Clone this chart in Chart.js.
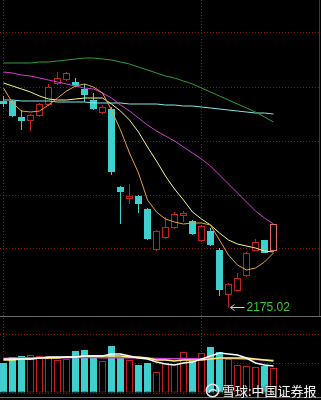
<!DOCTYPE html>
<html>
<head>
<meta charset="utf-8">
<script src="https://cdn.jsdelivr.net/npm/chart.js@4.4.1/dist/chart.umd.min.js"></script>
<style>
  html, body { margin: 0; padding: 0; background: #000; }
  #wrap { position: relative; width: 321px; height: 400px; overflow: hidden; background: #000; }
  #priceChart { position: absolute; left: 0; top: 0; }
  #volChart { position: absolute; left: 0; top: 318px; }
  #mark {
    position: absolute; left: 205px; top: 383px; height: 15px;
    display: flex; align-items: center; gap: 2px;
    font: 13px "Noto Sans CJK SC", sans-serif; line-height: 15px;
    color: #f2f2f2; text-shadow: 0 0 2px #000, 0 0 1px #555;
    white-space: nowrap;
  }
</style>
</head>
<body>
<div id="wrap">
  <canvas id="priceChart" width="321" height="318"></canvas>
  <canvas id="volChart" width="321" height="82"></canvas>
  <div id="mark">
    <svg width="15" height="15" viewBox="0 0 15 15">
      <circle cx="7.5" cy="7.5" r="6.2" fill="none" stroke="#e8e8e8" stroke-width="1.6"/>
      <path d="M3.8 9.8 C5 6.2 8.6 5.4 11.2 8" fill="none" stroke="#e8e8e8" stroke-width="1.6"/>
    </svg>
    <span>雪球:中国证券报</span>
  </div>
</div>
<script>
// trading days shown (index order)
const days = [0, 1, 2, 3, 4, 5, 6, 7, 8, 9, 10, 11, 12, 13, 14, 15, 16, 17, 18, 19, 20, 21, 22, 23, 24, 25, 26, 27, 28, 29, 30];

const open  = [2588, 2588, 2556, 2548, 2558, 2580, 2622, 2630, 2626, 2612, 2590, 2564, 2572, 2416, 2392, 2398, 2372, 2290, 2314, 2334, 2358, 2348, 2308, 2328, 2290, 2200, 2208, 2238, 2288, 2310, 2288];
const close = [2582, 2558, 2548, 2560, 2582, 2616, 2634, 2644, 2620, 2600, 2572, 2576, 2446, 2406, 2398, 2382, 2312, 2328, 2336, 2362, 2364, 2322, 2338, 2300, 2210, 2222, 2234, 2284, 2306, 2284, 2342];
const high  = [2598, 2590, 2570, 2562, 2584, 2622, 2646, 2646, 2634, 2622, 2604, 2580, 2576, 2418, 2422, 2400, 2374, 2330, 2356, 2366, 2368, 2350, 2340, 2334, 2294, 2224, 2244, 2286, 2312, 2310, 2342];
const low   = [2576, 2556, 2530, 2528, 2556, 2578, 2620, 2628, 2616, 2586, 2570, 2562, 2440, 2342, 2382, 2364, 2310, 2288, 2312, 2332, 2346, 2320, 2306, 2298, 2198, 2175.02, 2206, 2236, 2288, 2284, 2286];

// moving averages
const ma5   = [2614, 2584, 2568, 2566, 2568, 2580, 2594, 2608, 2618, 2622, 2616, 2604, 2570, 2530, 2484, 2444, 2390, 2366, 2352, 2346, 2342, 2344, 2344, 2340, 2310, 2280, 2260, 2250, 2254, 2266, 2284];
const ma10  = [2624, 2618, 2612, 2606, 2598, 2592, 2590, 2590, 2592, 2594, 2594, 2594, 2582, 2568, 2550, 2526, 2496, 2468, 2438, 2412, 2390, 2366, 2352, 2340, 2324, 2310, 2302, 2298, 2294, 2288, 2286];
const ma20  = [2646, 2644, 2640, 2638, 2634, 2630, 2626, 2622, 2618, 2614, 2612, 2604, 2594, 2580, 2568, 2554, 2540, 2528, 2518, 2508, 2496, 2484, 2472, 2458, 2440, 2422, 2404, 2386, 2368, 2354, 2342];
const ma60  = [2664, 2664, 2664, 2664, 2666, 2666, 2668, 2670, 2672, 2674, 2674, 2672, 2670, 2666, 2662, 2656, 2650, 2644, 2638, 2634, 2628, 2622, 2614, 2606, 2598, 2590, 2582, 2574, 2566, 2556, 2546];
const ma120 = [2590, 2590, 2588, 2588, 2588, 2588, 2586, 2586, 2586, 2586, 2584, 2584, 2584, 2584, 2582, 2582, 2582, 2582, 2580, 2580, 2578, 2578, 2576, 2574, 2572, 2570, 2568, 2566, 2564, 2564, 2562];

// volume and its averages
const vol     = [300, 360, 370, 380, 370, 350, 330, 340, 420, 430, 350, 320, 470, 360, 330, 280, 300, 210, 300, 290, 410, 320, 400, 460, 410, 340, 280, 270, 260, 270, 250];
const volMa5  = [340, 340, 340, 340, 350, 360, 360, 360, 360, 370, 370, 370, 390, 390, 370, 350, 340, 310, 290, 280, 300, 310, 340, 370, 400, 390, 380, 350, 300, 280, 270];
const volMa10 = [330, 330, 340, 340, 350, 350, 350, 360, 360, 370, 370, 370, 370, 370, 360, 360, 350, 330, 330, 320, 330, 330, 330, 340, 350, 350, 350, 350, 340, 330, 320];
const volMa20 = [345, 350, 352, 352, 352, 353, 352, 352, 354, 354, 354, 353, 354, 353, 352, 350, 348, 345, 343, 343, 345, 343, 343, 344, 346, 345, 342, 338, 335, 332, 328];

// grid positions (hidden tick labels)
const gridDays = [0, 22];
const priceTicks = [2292, 2400, 2508, 2616, 2724];
const volTicks = [0, 295, 590];

const UP = '#c42020';
const LAST_UP = '#e26a6a';
const DOWN = '#3ecfcf';
const GRID = '#8a1414';

const isUp = days.map(i => close[i] >= open[i]);
const candleColor = i => !isUp[i] ? DOWN : (i === days.length - 1 ? LAST_UP : UP);

function xAxis() {
  return {
    type: 'linear', min: -0.39, max: 35.28, offset: false,
    afterBuildTicks: s => { s.ticks = gridDays.map(v => ({ value: v })); },
    afterFit: s => { s.height = 0; },
    ticks: { display: false },
    grid: { color: GRID, drawTicks: false, offset: false },
    border: { display: false, dash: [1, 2] }
  };
}

function yAxis(min, max, tickVals) {
  return {
    type: 'linear', min: min, max: max,
    afterBuildTicks: s => { s.ticks = tickVals.map(v => ({ value: v })); },
    afterFit: s => { s.width = 0; },
    ticks: { display: false },
    grid: { color: GRID, drawTicks: false },
    border: { display: false, dash: [1, 2] }
  };
}

function lineSet(label, data, color, width) {
  return {
    type: 'line', label: label,
    data: days.map(i => ({ x: i, y: data[i] })),
    borderColor: color, borderWidth: width || 1,
    pointRadius: 0, tension: 0, fill: false
  };
}

// frame lines around the panels
function framePlugin(lines) {
  return {
    id: 'frame',
    afterDraw(chart) {
      const ctx = chart.ctx;
      ctx.save();
      ctx.lineWidth = 1;
      lines.forEach(l => {
        ctx.strokeStyle = l.color;
        ctx.beginPath();
        ctx.moveTo(l.x1, l.y1);
        ctx.lineTo(l.x2, l.y2);
        ctx.stroke();
      });
      ctx.restore();
    }
  };
}

// arrow + value at the lowest low
const lowMark = {
  id: 'lowMark',
  afterDatasetsDraw(chart) {
    let k = 0;
    low.forEach((v, i) => { if (v < low[k]) k = i; });
    const x = chart.scales.x.getPixelForValue(days[k]);
    const y = Math.round(chart.scales.y.getPixelForValue(low[k])) + 0.5;
    const ctx = chart.ctx;
    ctx.save();
    ctx.strokeStyle = '#cfcfcf';
    ctx.lineWidth = 1;
    ctx.beginPath();
    ctx.moveTo(x + 2, y); ctx.lineTo(x + 16, y);
    ctx.moveTo(x + 6, y - 3); ctx.lineTo(x + 2, y); ctx.lineTo(x + 6, y + 3);
    ctx.stroke();
    ctx.fillStyle = '#39c83a';
    ctx.font = '12px "Liberation Sans", Arial, sans-serif';
    ctx.textBaseline = 'middle';
    ctx.fillText(low[k].toFixed(2), x + 18, y + 0.5);
    ctx.restore();
  }
};

const common = {
  responsive: false,
  animation: false,
  events: [],
  layout: { autoPadding: false, padding: 0 },
  plugins: { legend: { display: false }, tooltip: { enabled: false } }
};

new Chart(document.getElementById('priceChart'), {
  type: 'bar',
  data: {
    datasets: [
      lineSet('MA5', ma5, '#e8a23a'),
      lineSet('MA10', ma10, '#f6f68e'),
      lineSet('MA20', ma20, '#d43cd4'),
      lineSet('MA60', ma60, '#2f9e3c'),
      lineSet('MA120', ma120, '#86e6e6'),
      {
        label: 'body',
        data: days.map(i => ({ x: i, y: [open[i], close[i]] })),
        backgroundColor: days.map(i => isUp[i] ? '#000' : DOWN),
        borderColor: days.map(candleColor),
        borderWidth: 1, borderSkipped: false,
        barThickness: 7, grouped: false, inflateAmount: 0
      },
      {
        label: 'wick',
        data: days.map(i => ({ x: i, y: [low[i], high[i]] })),
        backgroundColor: days.map(candleColor),
        borderWidth: 0,
        barThickness: 1, grouped: false, inflateAmount: 0
      }
    ]
  },
  options: Object.assign({}, common, {
    scales: { x: xAxis(), y: yAxis(2154, 2790, priceTicks) }
  }),
  plugins: [lowMark, framePlugin([
    { x1: 0, y1: 316.5, x2: 321, y2: 316.5, color: '#6a6a6a' },
    { x1: 319.5, y1: 0, x2: 319.5, y2: 316, color: '#3c3c3c' }
  ])]
});

new Chart(document.getElementById('volChart'), {
  type: 'bar',
  data: {
    datasets: [
      lineSet('VMA5', volMa5, '#ffffff', 1.5),
      lineSet('VMA10', volMa10, '#f8f86a', 1.5),
      lineSet('VMA20', volMa20, '#d43cd4', 1.5),
      {
        label: 'volume',
        data: days.map(i => ({ x: i, y: vol[i] })),
        backgroundColor: days.map(i => isUp[i] ? '#000' : DOWN),
        borderColor: days.map(i => isUp[i] ? UP : DOWN),
        borderWidth: 1, borderSkipped: false,
        barThickness: 7, grouped: false, inflateAmount: 0
      }
    ]
  },
  options: Object.assign({}, common, {
    layout: { autoPadding: false, padding: { bottom: 7 } },
    scales: { x: xAxis(), y: yAxis(0, 750, volTicks) }
  }),
  plugins: [framePlugin([
    { x1: 0, y1: 79.5, x2: 321, y2: 79.5, color: '#6a6a6a' }
  ])]
});
</script>
</body>
</html>
